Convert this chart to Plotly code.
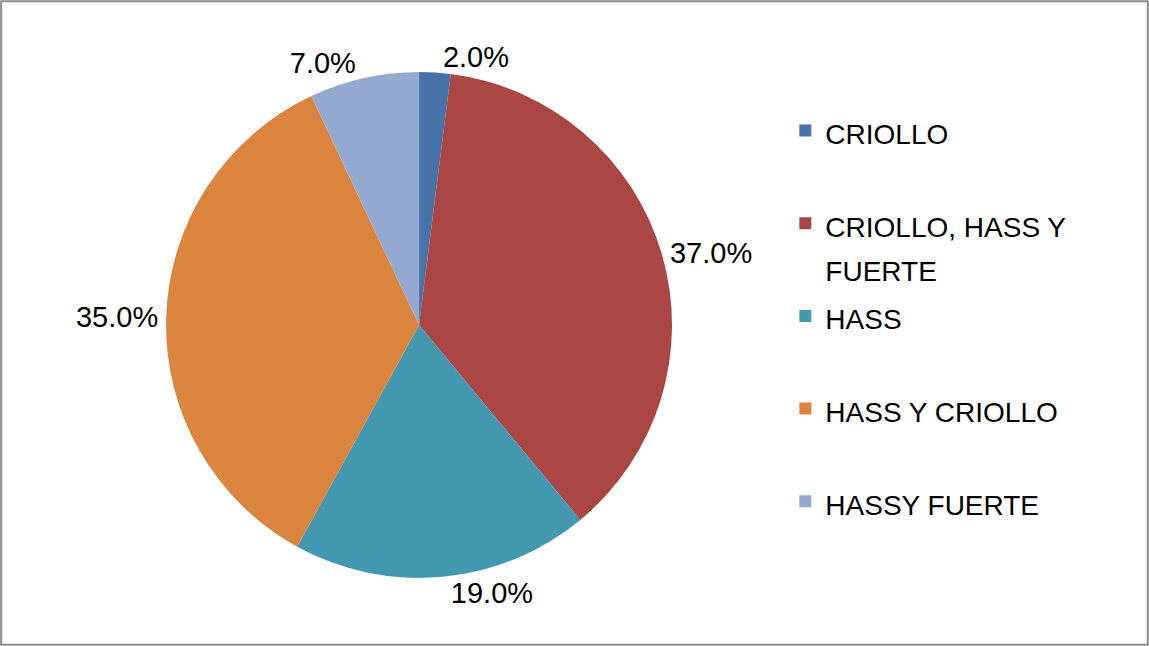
import plotly.graph_objects as go

# variedades de aguacate
categorias = ["CRIOLLO", "CRIOLLO, HASS Y FUERTE", "HASS", "HASS Y CRIOLLO", "HASSY FUERTE"]
porcentajes = [2.0, 37.0, 19.0, 35.0, 7.0]
colores = ["#4572A7", "#AA4643", "#4198AF", "#DB843D", "#93A9CF"]

# etiquetas de leyenda con espacio extra para separar las entradas como en el original
leyenda = []
for c in categorias:
    if c == "CRIOLLO, HASS Y FUERTE":
        txt = "CRIOLLO, HASS Y<br>FUERTE"
    else:
        txt = c + "<br> "
    leyenda.append("<span style='font-size:28px'>" + txt + "</span>")

fig = go.Figure()
fig.add_trace(go.Pie(
    labels=leyenda,
    values=porcentajes,
    sort=False,
    direction="clockwise",
    rotation=0,
    marker=dict(colors=colores, line=dict(width=0)),
    textinfo="percent",
    texttemplate="%{value:.1f}%",
    textposition="outside",
    textfont=dict(size=29, color="black", family="Liberation Sans, Arial"),
    domain=dict(x=[0.1036, 0.6258], y=[0.1053, 0.8885]),
    hoverinfo="label+percent",
))

fig.update_layout(
    width=1149,
    height=646,
    margin=dict(l=0, r=0, t=0, b=0, autoexpand=False),
    paper_bgcolor="white",
    plot_bgcolor="white",
    font=dict(family="Liberation Sans, Arial", color="black"),
    legend=dict(
        x=0.6835, y=0.8428, xanchor="left", yanchor="top",
        font=dict(size=34.5, color="black"),
        valign="top",
        itemwidth=30,
        bgcolor="rgba(0,0,0,0)",
    ),
    shapes=[dict(type="rect", xref="paper", yref="paper", x0=0.001, y0=0.002, x1=0.999, y1=0.998,
                 line=dict(color="#8c8c8c", width=2))],
)

# quitar el margen del body para que la figura quede en (0,0)
fig.write_html("out.html", config={"displayModeBar": False},
               post_script="document.body.style.margin='0';")
